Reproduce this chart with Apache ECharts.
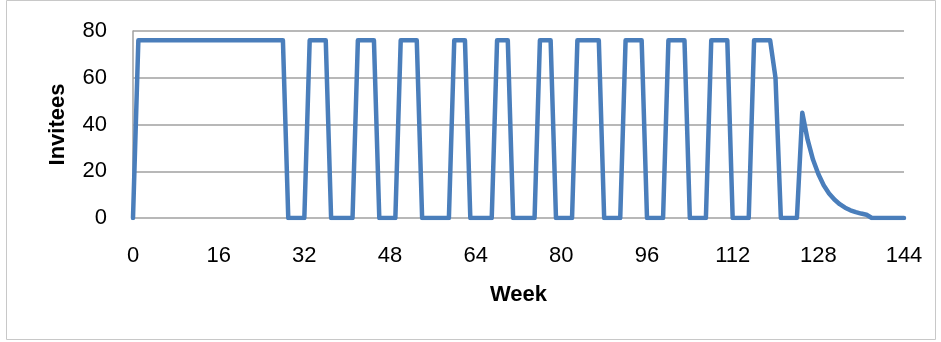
<!DOCTYPE html>
<html>
<head>
<meta charset="utf-8">
<script src="https://cdn.jsdelivr.net/npm/echarts@6/dist/echarts.min.js"></script>
<style>
  html, body { margin: 0; padding: 0; background: #ffffff; }
  #chart { width: 941px; height: 342px; }
</style>
</head>
<body>
<div id="chart"></div>
<script>
// Weekly number of invitees, one value per week starting at week 0
const invitees = [
  0,
  76, 76, 76, 76, 76, 76, 76, 76, 76, 76, 76, 76, 76, 76,
  76, 76, 76, 76, 76, 76, 76, 76, 76, 76, 76, 76, 76, 76,
  0, 0, 0, 0,
  76, 76, 76, 76,
  0, 0, 0, 0, 0,
  76, 76, 76, 76,
  0, 0, 0, 0,
  76, 76, 76, 76,
  0, 0, 0, 0, 0, 0,
  76, 76, 76,
  0, 0, 0, 0, 0,
  76, 76, 76,
  0, 0, 0, 0, 0,
  76, 76, 76,
  0, 0, 0, 0,
  76, 76, 76, 76, 76,
  0, 0, 0, 0,
  76, 76, 76, 76,
  0, 0, 0, 0,
  76, 76, 76, 76,
  0, 0, 0, 0,
  76, 76, 76, 76,
  0, 0, 0, 0,
  76, 76, 76, 76,
  60,
  0, 0, 0, 0,
  45, 33.5, 25, 18.8, 14, 10.5, 7.9, 5.9, 4.4, 3.3, 2.5, 1.9, 1.4,
  0, 0, 0, 0, 0, 0, 0
];

// Axis settings
const xTicks = { min: 0, max: 144, step: 16 };
const yTicks = { min: 0, max: 80, step: 20 };
const xTitle = 'Week';
const yTitle = 'Invitees';

const points = invitees.map((v, week) => [week, v]);

const chart = echarts.init(document.getElementById('chart'), null, { renderer: 'canvas' });

const fontFamily = '"Liberation Sans", Arial, sans-serif';
const gridColor = '#a0a0a0';

chart.setOption({
  animation: false,
  backgroundColor: '#ffffff',
  grid: { left: 133, right: 37, top: 31, bottom: 124, containLabel: false },
  xAxis: {
    type: 'value',
    min: xTicks.min,
    max: xTicks.max,
    interval: xTicks.step,
    name: xTitle,
    nameLocation: 'middle',
    nameGap: 66,
    nameTextStyle: { fontFamily, fontSize: 22, fontWeight: 'bold', color: '#000' },
    axisLine: { show: false },
    axisTick: { show: false },
    splitLine: { show: false },
    axisLabel: { fontFamily, fontSize: 22, color: '#000', margin: 27 }
  },
  yAxis: {
    type: 'value',
    min: yTicks.min,
    max: yTicks.max,
    interval: yTicks.step,
    name: yTitle,
    nameLocation: 'middle',
    nameGap: 64,
    nameTextStyle: { fontFamily, fontSize: 22, fontWeight: 'bold', color: '#000' },
    axisLine: { show: true, lineStyle: { color: gridColor, width: 1.5 } },
    axisTick: { show: false },
    splitLine: { show: true, lineStyle: { color: gridColor, width: 1.5 } },
    axisLabel: { fontFamily, fontSize: 22, color: '#000', margin: 26 }
  },
  graphic: [{
    type: 'rect',
    shape: { x: 6.5, y: 0.5, width: 929, height: 339 },
    style: { fill: null, stroke: '#c8c8c8', lineWidth: 1 },
    silent: true
  }],
  series: [{
    type: 'line',
    data: points,
    showSymbol: false,
    symbol: 'none',
    lineStyle: { color: '#4a7ebb', width: 4.5, join: 'round', cap: 'round' },
    z: 3
  }]
});
</script>
</body>
</html>
